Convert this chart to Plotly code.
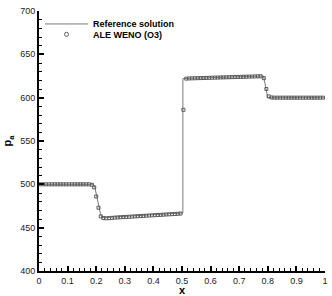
import plotly.graph_objects as go

# Reference (exact) solution
ref_x = [0.0, 0.19, 0.195, 0.20, 0.205, 0.21, 0.215, 0.22, 0.35, 0.503, 0.503, 0.65, 0.785, 0.80, 1.0]
ref_p = [500, 500, 497, 489, 481, 473, 466, 461.5, 464, 467, 622, 623.5, 625, 600, 600]

# ALE WENO (O3) numerical solution
ale_x = [0.005, 0.015, 0.025, 0.035, 0.045, 0.055, 0.065, 0.075, 0.085, 0.095,
         0.105, 0.115, 0.125, 0.135, 0.145, 0.155, 0.165, 0.175, 0.185, 0.193,
         0.200, 0.208, 0.216, 0.225, 0.235, 0.245, 0.255, 0.265, 0.275, 0.285,
         0.295, 0.305, 0.315, 0.325, 0.335, 0.345, 0.355, 0.365, 0.375, 0.385,
         0.395, 0.405, 0.415, 0.425, 0.435, 0.445, 0.455, 0.465, 0.475, 0.485,
         0.495, 0.505, 0.515, 0.525, 0.535, 0.545, 0.555, 0.565, 0.575, 0.585,
         0.595, 0.605, 0.615, 0.625, 0.635, 0.645, 0.655, 0.665, 0.675, 0.685,
         0.695, 0.705, 0.715, 0.725, 0.735, 0.745, 0.755, 0.765, 0.775, 0.786,
         0.795, 0.803, 0.813, 0.823, 0.833, 0.843, 0.853, 0.863, 0.873, 0.883,
         0.893, 0.903, 0.913, 0.923, 0.933, 0.943, 0.953, 0.963, 0.973, 0.983,
         0.993]
ale_p = [500, 500, 500, 500, 500, 500, 500, 500, 500, 500,
         500, 500, 500, 500, 500, 500, 500, 500, 499.5, 496.5,
         486, 473, 463, 461, 460.8, 461, 461.3, 461.6, 461.8, 462,
         462.2, 462.4, 462.6, 462.8, 463, 463.2, 463.4, 463.6, 463.8, 464,
         464.2, 464.4, 464.6, 464.8, 465, 465.2, 465.4, 465.6, 465.8, 466,
         466.3, 586, 622, 622.2, 622.3, 622.4, 622.5, 622.6, 622.7, 622.8,
         622.9, 623, 623.1, 623.2, 623.3, 623.4, 623.5, 623.6, 623.7, 623.8,
         623.9, 624, 624.1, 624.2, 624.3, 624.4, 624.5, 624.6, 624.7, 622.5,
         610, 601.5, 600.2, 600, 600, 600, 600, 600, 600, 600,
         600, 600, 600, 600, 600, 600, 600, 600, 600, 600,
         600]

x_ticks = [0, 0.1, 0.2, 0.3, 0.4, 0.5, 0.6, 0.7, 0.8, 0.9, 1]
x_tick_labels = ["0", "0.1", "0.2", "0.3", "0.4", "0.5", "0.6", "0.7", "0.8", "0.9", "1"]
y_ticks = [400, 450, 500, 550, 600, 650, 700]

font_family = "Liberation Sans, Arial, sans-serif"
mark_color = "#5a5a5a"

fig = go.Figure()
fig.add_trace(go.Scatter(
    x=ref_x, y=ref_p, mode="lines", name="<b>Reference solution</b>",
    line=dict(color="#7a7a7a", width=1), legend="legend",
))
fig.add_trace(go.Scatter(
    x=ale_x, y=ale_p, mode="markers", name="<b>ALE WENO (O3)</b>", showlegend=False,
    marker=dict(symbol="square-open", size=3, color=mark_color, line=dict(width=1, color=mark_color)),
))
# legend entry (circle symbol as in the reference legend)
fig.add_trace(go.Scatter(
    x=[None], y=[None], mode="markers", name="<b>ALE WENO (O3)</b>", legend="legend2",
    marker=dict(symbol="circle-open", size=4, color=mark_color, line=dict(width=1, color=mark_color)),
))

axis_common = dict(
    showgrid=False, zeroline=False, showline=True, linecolor="black", linewidth=2,
    ticks="inside", ticklen=5, tickwidth=1.5, tickcolor="black",
    tickfont=dict(family=font_family, size=9, color="#222222"),
    mirror=False, automargin=False,
)

legend_common = dict(
    xanchor="left", yanchor="top",
    bgcolor="rgba(0,0,0,0)", borderwidth=0,
    font=dict(family=font_family, size=9, color="black"),
    itemwidth=43,
)

fig.update_layout(
    width=332, height=296,
    margin=dict(l=39, r=7, t=11, b=25, autoexpand=False),
    paper_bgcolor="white", plot_bgcolor="white",
    font=dict(family=font_family, color="black"),
    showlegend=True,
    legend=dict(x=0.0035, y=1.006, **legend_common),
    legend2=dict(x=0.0035, y=0.966, **legend_common),
    xaxis=dict(
        range=[0, 1], tickvals=x_ticks, ticktext=x_tick_labels,
        minor=dict(ticks="inside", ticklen=3, tickwidth=1, tickcolor="black", dtick=0.02),
        title=dict(text="<b>x</b>", font=dict(family=font_family, size=11), standoff=0),
        **axis_common,
    ),
    yaxis=dict(
        range=[400, 700], tickvals=y_ticks,
        minor=dict(ticks="inside", ticklen=3, tickwidth=1, tickcolor="black", dtick=10),
        title=dict(text="<b>p<sub>a</sub></b>", font=dict(family=font_family, size=11), standoff=6),
        **axis_common,
    ),
)

fig.write_html(
    "out.html",
    config={"displayModeBar": False},
    post_script="document.body.style.margin='0';document.body.style.padding='0';",
)
